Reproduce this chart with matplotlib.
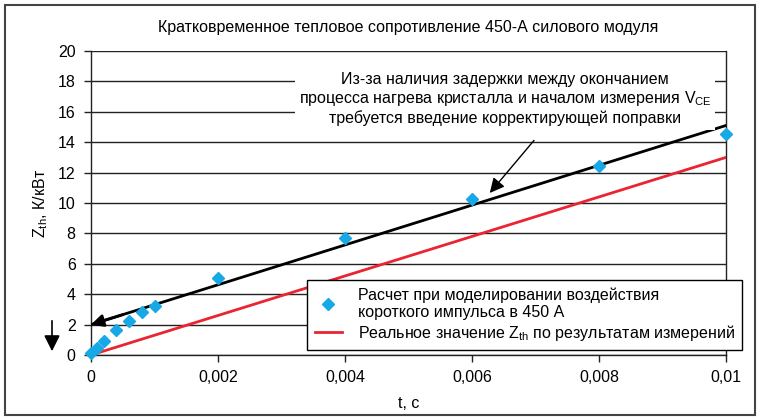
import matplotlib
matplotlib.use('Agg')
import matplotlib.pyplot as plt
from matplotlib.patches import Rectangle, FancyArrowPatch

plt.rcParams['font.family'] = ['Liberation Sans', 'DejaVu Sans']
plt.rcParams['mathtext.fontset'] = 'custom'
plt.rcParams['mathtext.rm'] = 'Liberation Sans'

# simulated short-pulse Zth, K/kW
calc_t = [0, 0.0001, 0.0002, 0.0004, 0.0006, 0.0008, 0.001, 0.002, 0.004, 0.006, 0.008, 0.01]
calc_z = [0.1, 0.45, 0.95, 1.65, 2.25, 2.8, 3.25, 5.05, 7.7, 10.25, 12.45, 14.55]

# linear fit through the simulation (starts at the 2 K/kW offset)
fit_t = [0, 0.01]
fit_z = [2.0, 15.1]

# measured Zth
meas_t = [0, 0.01]
meas_z = [0.0, 13.0]

xticks = [0, 0.002, 0.004, 0.006, 0.008, 0.01]
xtick_labels = ['0', '0,002', '0,004', '0,006', '0,008', '0,01']
yticks = list(range(0, 21, 2))

blue = '#17a9e6'
red = '#ea2430'

fig = plt.figure(figsize=(7.61, 4.19), dpi=100)
ax = fig.add_axes([91 / 761, 1 - 355 / 419, 635 / 761, 304 / 419])

# frame around the whole figure
fig.patches.append(Rectangle((5 / 761, 4 / 419), 750 / 761, 410 / 419,
                             transform=fig.transFigure, fill=False,
                             edgecolor='#444444', lw=1.5))

ax.set_xlim(0, 0.01)
ax.set_ylim(0, 20)
ax.set_yticks(yticks)
ax.set_xticks(xticks)
ax.set_xticklabels(xtick_labels)
ax.tick_params(labelsize=11.5, length=5, width=1, color='#222222', pad=6)
ax.yaxis.grid(True, color='#222222', lw=1)
ax.set_axisbelow(True)
for s in ax.spines.values():
    s.set_color('#222222')
    s.set_linewidth(1)
ax.spines['top'].set_visible(False)

red_line, = ax.plot(meas_t, meas_z, color=red, lw=2, zorder=3)
ax.plot(fit_t, fit_z, color='black', lw=2, zorder=3)
ax.annotate('', xy=(fit_t[0], fit_z[0]), xytext=(0.0005, fit_z[0] + 0.0005 * 1310),
            arrowprops=dict(arrowstyle='-|>', color='black', lw=2,
                            mutation_scale=18, shrinkA=0, shrinkB=0), zorder=4)
pts, = ax.plot(calc_t, calc_z, linestyle='none', marker='D', markersize=6.5,
               color=blue, zorder=5, clip_on=False)

ax.annotate('Из-за наличия задержки между окончанием\n'
            'процесса нагрева кристалла и началом измерения $\\mathregular{V_{CE}}$\n'
            'требуется введение корректирующей поправки',
            xy=(0.00628, 10.66), xytext=(0.00652, 16.85),
            ha='center', va='center', fontsize=11.5, linespacing=1.15,
            bbox=dict(boxstyle='square,pad=0.25', fc='white', ec='none'),
            arrowprops=dict(arrowstyle='-|>', color='black', lw=1,
                            mutation_scale=22, shrinkA=10, shrinkB=0,
                            relpos=(0.6, 0.0)), zorder=6)

ax.set_title('Кратковременное тепловое сопротивление 450-А силового модуля',
             fontsize=11.5, pad=14)
ax.set_xlabel('t, с', fontsize=11.5, labelpad=8)
ax.set_ylabel('$\\mathregular{Z_{th}}$, К/кВт', fontsize=11.5, labelpad=6)

leg = ax.legend([pts, red_line],
                ['Расчет при моделировании воздействия\nкороткого импульса в 450 А',
                 'Реальное значение $\\mathregular{Z_{th}}$ по результатам измерений'],
                loc='lower right', bbox_to_anchor=(742 / 761, 1 - 350 / 419),
                bbox_transform=fig.transFigure, borderaxespad=0,
                fontsize=11.5, frameon=True, fancybox=False, edgecolor='black',
                framealpha=1, handlelength=1.7, handletextpad=1.0,
                borderpad=0.45, labelspacing=0.15)
leg.get_frame().set_linewidth(1)
leg.set_zorder(10)

# down arrow left of the zero tick
fig.patches.append(FancyArrowPatch(
    (52 / 761, 1 - 318 / 419), (52 / 761, 1 - 354 / 419),
    transform=fig.transFigure, arrowstyle='-|>', mutation_scale=24,
    color='black', lw=1.2))

fig.savefig('out.png', dpi=100)
